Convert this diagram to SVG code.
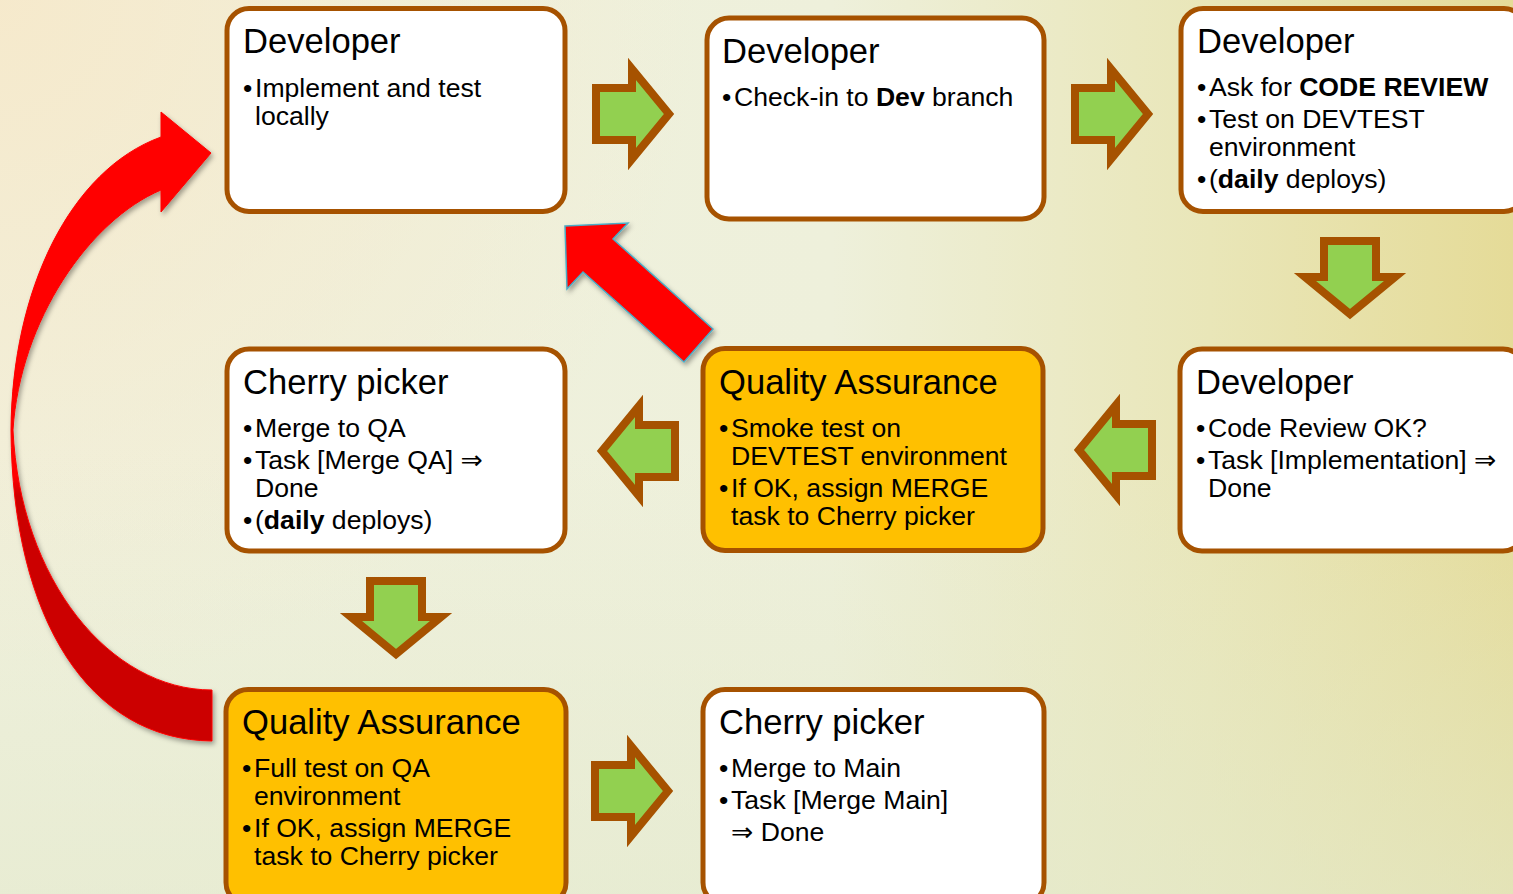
<svg xmlns="http://www.w3.org/2000/svg" width="1513" height="894" viewBox="0 0 1513 894">
<defs>
<linearGradient id="bg" x1="0" y1="0" x2="1" y2="0">
<stop offset="0" stop-color="#F0F1DE"/>
<stop offset="0.55" stop-color="#EEF0DB"/>
<stop offset="0.8" stop-color="#E9E6B8"/>
<stop offset="1" stop-color="#E5DB98"/>
</linearGradient>
<radialGradient id="peach" cx="0" cy="0" r="700" gradientUnits="userSpaceOnUse">
<stop offset="0" stop-color="#F6E9CB" stop-opacity="0.95"/>
<stop offset="1" stop-color="#F6E9CB" stop-opacity="0"/>
</radialGradient>
<linearGradient id="bottomShade" x1="0" y1="0" x2="0" y2="1">
<stop offset="0.5" stop-color="#E3E9CC" stop-opacity="0"/>
<stop offset="1" stop-color="#E3E9CC" stop-opacity="0.6"/>
</linearGradient>
<linearGradient id="redGrad" x1="0" y1="100" x2="0" y2="760" gradientUnits="userSpaceOnUse">
<stop offset="0" stop-color="#FF0000"/>
<stop offset="0.57" stop-color="#FF0000"/>
<stop offset="0.6" stop-color="#CC0000"/>
<stop offset="1" stop-color="#CC0000"/>
</linearGradient>
<filter id="shadow" x="-20%" y="-20%" width="140%" height="140%">
<feDropShadow dx="2" dy="3" stdDeviation="2.5" flood-color="#000" flood-opacity="0.35"/>
</filter>
<path id="arr" d="M-36,-26 H0 V-45 L37,0 L0,45 V26 H-36 Z"/>
<style>
.box{fill:#FFFFFF;stroke:#A65200;stroke-width:5}
.qa{fill:#FFC000;stroke:#A65200;stroke-width:5}
.garr{fill:#92D050;stroke:#A65200;stroke-width:8;stroke-linejoin:miter;stroke-miterlimit:10}
text{font-family:"Liberation Sans",Arial,"DejaVu Sans",sans-serif;fill:#000}
.t{font-size:34.6px}
.b{font-size:26.6px}
.bold{font-weight:bold}
</style>
</defs>
<rect x="0" y="0" width="1513" height="894" fill="url(#bg)"/>
<rect x="0" y="0" width="1513" height="894" fill="url(#peach)"/>
<rect x="0" y="0" width="1513" height="894" fill="url(#bottomShade)"/>

<g id="connectors">
<use href="#arr" class="garr" transform="translate(632,114)"/>
<use href="#arr" class="garr" transform="translate(1111,114)"/>
<use href="#arr" class="garr" transform="translate(1350,277) rotate(90)"/>
<use href="#arr" class="garr" transform="translate(1116,450) rotate(180)"/>
<use href="#arr" class="garr" transform="translate(639,451) rotate(180)"/>
<use href="#arr" class="garr" transform="translate(396,617) rotate(90)"/>
<use href="#arr" class="garr" transform="translate(631,791)"/>
<path filter="url(#shadow)" fill="url(#redGrad)" stroke="#FF0000" stroke-width="1" d="M212,690 C110,690 20,580 13,430 C20,320 90,220 161,190 L161,212 L211,153 L161,112 L161,137 C70,170 12,290 11,430 C12,620 90,740 212,741 Z"/>
<polygon filter="url(#shadow)" fill="#FF0000" stroke="#4BACC6" stroke-width="1.5" points="565,226 628,223 613,239 713,329 684,362 583,272 567,289"/>
</g>

<g id="node1">
<rect class="box" x="227" y="8.5" width="338" height="203" rx="22"/>
<text class="t" x="243" y="53">Developer</text>
<text class="b" x="243" y="97">•</text>
<text class="b" x="255" y="97">Implement and test</text>
<text class="b" x="255" y="125">locally</text>
</g>

<g id="node2">
<rect class="box" x="707" y="18" width="337" height="201" rx="22"/>
<text class="t" x="722" y="63">Developer</text>
<text class="b" x="722" y="106">•</text>
<text class="b" x="734" y="106">Check-in to <tspan class="bold">Dev</tspan> branch</text>
</g>

<g id="node3">
<rect class="box" x="1181" y="8.5" width="345" height="203" rx="22"/>
<text class="t" x="1197" y="53">Developer</text>
<text class="b" x="1197" y="96">•</text>
<text class="b" x="1209" y="96">Ask for <tspan class="bold">CODE REVIEW</tspan></text>
<text class="b" x="1197" y="128">•</text>
<text class="b" x="1209" y="128">Test on DEVTEST</text>
<text class="b" x="1209" y="156">environment</text>
<text class="b" x="1197" y="188">•</text>
<text class="b" x="1209" y="188">(<tspan class="bold">daily</tspan> deploys)</text>
</g>

<g id="node4">
<rect class="box" x="1180" y="349" width="345" height="202" rx="22"/>
<text class="t" x="1196" y="394">Developer</text>
<text class="b" x="1196" y="437">•</text>
<text class="b" x="1208" y="437">Code Review OK?</text>
<text class="b" x="1196" y="469">•</text>
<text class="b" x="1208" y="469">Task [Implementation] ⇒</text>
<text class="b" x="1208" y="497">Done</text>
</g>

<g id="node5">
<rect class="qa" x="703" y="348.5" width="340" height="202" rx="22"/>
<text class="t" x="719" y="394">Quality Assurance</text>
<text class="b" x="719" y="437">•</text>
<text class="b" x="731" y="437">Smoke test on</text>
<text class="b" x="731" y="465">DEVTEST environment</text>
<text class="b" x="719" y="497">•</text>
<text class="b" x="731" y="497">If OK, assign MERGE</text>
<text class="b" x="731" y="525">task to Cherry picker</text>
</g>

<g id="node6">
<rect class="box" x="227" y="349" width="338" height="202" rx="22"/>
<text class="t" x="243" y="394">Cherry picker</text>
<text class="b" x="243" y="437">•</text>
<text class="b" x="255" y="437">Merge to QA</text>
<text class="b" x="243" y="469">•</text>
<text class="b" x="255" y="469">Task [Merge QA] ⇒</text>
<text class="b" x="255" y="497">Done</text>
<text class="b" x="243" y="529">•</text>
<text class="b" x="255" y="529">(<tspan class="bold">daily</tspan> deploys)</text>
</g>

<g id="node7">
<rect class="qa" x="226" y="689.5" width="340" height="215" rx="22"/>
<text class="t" x="242" y="734">Quality Assurance</text>
<text class="b" x="242" y="777">•</text>
<text class="b" x="254" y="777">Full test on QA</text>
<text class="b" x="254" y="805">environment</text>
<text class="b" x="242" y="837">•</text>
<text class="b" x="254" y="837">If OK, assign MERGE</text>
<text class="b" x="254" y="865">task to Cherry picker</text>
</g>

<g id="node8">
<rect class="box" x="703" y="689.5" width="341" height="215" rx="22"/>
<text class="t" x="719" y="734">Cherry picker</text>
<text class="b" x="719" y="777">•</text>
<text class="b" x="731" y="777">Merge to Main</text>
<text class="b" x="719" y="809">•</text>
<text class="b" x="731" y="809">Task [Merge Main]</text>
<text class="b" x="731" y="841">⇒ Done</text>
</g>
</svg>
